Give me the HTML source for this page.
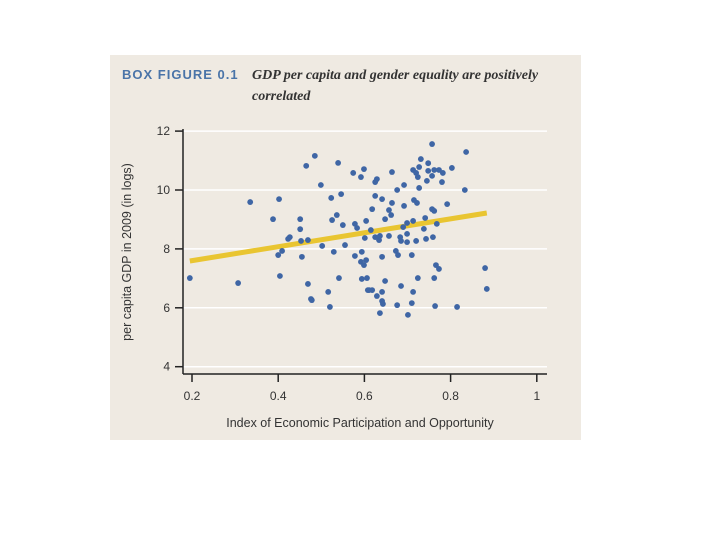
<!DOCTYPE html>
<html><head><meta charset="utf-8"><style>
html,body{margin:0;padding:0;background:#fff;width:720px;height:540px;overflow:hidden}
svg{display:block}
</style></head><body>
<svg width="720" height="540" xmlns="http://www.w3.org/2000/svg">
<rect x="110" y="55" width="471" height="385" fill="#efeae2"/>
<text x="122" y="79" font-family="Liberation Sans, sans-serif" font-weight="bold" font-size="13" fill="#4a74a8" letter-spacing="1">BOX FIGURE 0.1</text>
<text x="252" y="79" font-family="Liberation Serif, serif" font-style="italic" font-weight="bold" font-size="14" fill="#333">GDP per capita and gender equality are positively</text>
<text x="252" y="100" font-family="Liberation Serif, serif" font-style="italic" font-weight="bold" font-size="14" fill="#333">correlated</text>
<g id="grid"></g>
<g id="axes"></g>
<g id="trend"></g>
<g id="pts"></g>
<text x="360" y="427" text-anchor="middle" font-family="Liberation Sans, sans-serif" font-size="12.5" fill="#333">Index of Economic Participation and Opportunity</text>
<text transform="translate(131,252) rotate(-90)" text-anchor="middle" font-family="Liberation Sans, sans-serif" font-size="12.5" fill="#333">per capita GDP in 2009 (in logs)</text>
</svg>
<script>
const xTicks=[0.2,0.4,0.6,0.8,1];
const xTickLabels=["0.2","0.4","0.6","0.8","1"];
const yTicks=[4,6,8,10,12];
const yTickLabels=["4","6","8","10","12"];
const xVals=[0.195,0.307,0.335,0.402,0.388,0.451,0.451,0.427,0.423,0.400,0.409,0.455,0.404,0.469,0.476,0.465,0.485,0.499,0.523,0.546,0.539,0.574,0.592,0.599,0.536,0.525,0.550,0.578,0.604,0.502,0.529,0.555,0.578,0.594,0.592,0.599,0.604,0.541,0.594,0.606,0.608,0.516,0.520,0.601,0.469,0.453,
0.757,0.836,0.731,0.748,0.727,0.713,0.720,0.748,0.762,0.773,0.782,0.803,0.757,0.724,0.745,0.780,0.664,0.629,0.625,0.692,0.676,0.727,0.833,0.625,0.641,0.664,0.715,0.722,0.792,0.692,0.618,0.657,0.662,0.757,0.762,0.648,0.741,0.713,0.699,0.690,0.768,0.738,0.583,0.615,0.625,0.634,0.636,0.657,0.683,0.699,0.685,0.699,0.720,0.743,0.759,0.641,0.673,0.678,0.710,0.766,0.773,0.880,0.884,0.648,0.685,0.724,0.762,0.611,0.618,0.641,0.713,0.629,0.641,0.643,0.676,0.710,0.764,0.815,0.636,0.701,0.478];
const yVals=[7.01,6.84,9.59,9.69,9.01,9.01,8.67,8.40,8.34,7.79,7.93,7.73,7.08,6.81,6.30,10.82,11.16,10.17,9.73,9.86,10.92,10.58,10.44,10.71,9.15,8.98,8.81,8.85,8.95,8.10,7.90,8.13,7.76,7.90,7.56,7.45,7.62,7.01,6.98,7.01,6.60,6.54,6.03,8.37,8.30,8.27,
11.56,11.29,11.05,10.91,10.78,10.68,10.58,10.65,10.68,10.68,10.58,10.75,10.48,10.44,10.31,10.27,10.61,10.37,10.27,10.17,10.00,10.07,10.00,9.80,9.69,9.56,9.66,9.56,9.52,9.46,9.35,9.32,9.15,9.35,9.29,9.01,9.05,8.95,8.88,8.74,8.85,8.68,8.71,8.64,8.40,8.30,8.44,8.44,8.40,8.51,8.27,8.23,8.27,8.34,8.40,7.73,7.93,7.79,7.79,7.45,7.32,7.35,6.64,6.91,6.74,7.01,7.01,6.60,6.60,6.54,6.54,6.40,6.23,6.13,6.09,6.16,6.06,6.03,5.82,5.76,6.26];
const trendX=[0.195,0.884];
const trendY=[7.59,9.22];

const NS="http://www.w3.org/2000/svg";
function sx(v){return 192+(v-0.2)*431;}
function sy(v){return 366.7-(v-4)*29.45;}
function mk(tag,attrs,parent){const e=document.createElementNS(NS,tag);for(const k in attrs)e.setAttribute(k,attrs[k]);parent.appendChild(e);return e;}
const grid=document.getElementById('grid'),axes=document.getElementById('axes'),pts=document.getElementById('pts'),trend=document.getElementById('trend');
yTicks.forEach((t,i)=>{
  const y=sy(t);
  const g=mk('line',{x1:183,x2:547,y1:y,y2:y,stroke:'#fff','stroke-width':1.5},grid);
  
  
  const tk=mk('line',{x1:175,x2:183,y1:y,y2:y,stroke:'#222','stroke-width':1.5},axes);
  
  
  const tl=mk('text',{x:170,y:y+4,'text-anchor':'end','font-family':'Liberation Sans, sans-serif','font-size':12,fill:'#333'},axes);
  tl.textContent=yTickLabels[i];
  
  
});
const ya=mk('line',{x1:183,x2:183,y1:129,y2:374,stroke:'#222','stroke-width':1.5},axes);


const xa=mk('line',{x1:183,x2:547,y1:374,y2:374,stroke:'#222','stroke-width':1.5},axes);


xTicks.forEach((t,i)=>{
  const x=sx(t);
  const tk=mk('line',{x1:x,x2:x,y1:374,y2:382,stroke:'#222','stroke-width':1.5},axes);
  
  
  const tl=mk('text',{x:x,y:400,'text-anchor':'middle','font-family':'Liberation Sans, sans-serif','font-size':12,fill:'#333'},axes);
  tl.textContent=xTickLabels[i];
  
  
});
const tl=mk('line',{x1:sx(trendX[0]),y1:sy(trendY[0]),x2:sx(trendX[1]),y2:sy(trendY[1]),stroke:'#e9c531','stroke-width':5},trend);


xVals.forEach((v,i)=>{
  const c=mk('circle',{cx:sx(v),cy:sy(yVals[i]),r:2.9,fill:'#3f66a5'},pts);
  
  
});
</script>
</body></html>
